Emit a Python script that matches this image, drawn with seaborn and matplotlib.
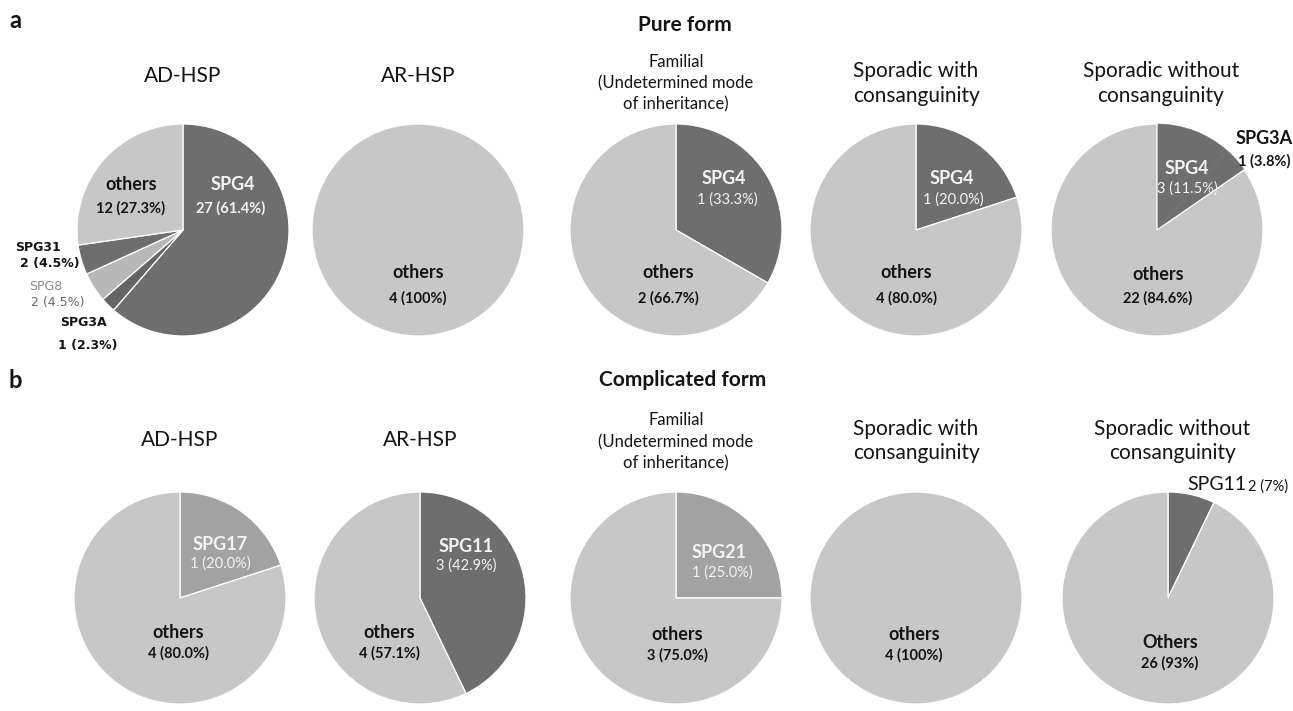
import matplotlib
matplotlib.use("Agg")
import matplotlib.pyplot as plt
import seaborn as sns

# ---------------- data ----------------
panel_letters = ["a", "b"]
panel_titles = ["Pure form", "Complicated form"]
group_titles = [["AD-HSP"], ["AR-HSP"],
                ["Familial", "(Undetermined mode", "of inheritance)"],
                ["Sporadic with", "consanguinity"],
                ["Sporadic without", "consanguinity"]]

# Row a (pure form)
a_ad_genes = ["SPG4", "SPG3A", "SPG8", "SPG31", "others"]
a_ad_counts = [27, 1, 2, 2, 12]
a_ad_texts = ["27 (61.4%)", "1 (2.3%)", "2 (4.5%)", "2 (4.5%)", "12 (27.3%)"]

a_ar_genes = ["others"]
a_ar_counts = [4]
a_ar_texts = ["4 (100%)"]

a_fam_genes = ["SPG4", "others"]
a_fam_counts = [1, 2]
a_fam_texts = ["1 (33.3%)", "2 (66.7%)"]

a_swc_genes = ["SPG4", "others"]
a_swc_counts = [1, 4]
a_swc_texts = ["1 (20.0%)", "4 (80.0%)"]

a_swo_genes = ["SPG4", "SPG3A", "others"]
a_swo_counts = [3, 1, 22]
a_swo_texts = ["3 (11.5%)", "1 (3.8%)", "22 (84.6%)"]

# Row b (complicated form)
b_ad_genes = ["SPG17", "others"]
b_ad_counts = [1, 4]
b_ad_texts = ["1 (20.0%)", "4 (80.0%)"]

b_ar_genes = ["SPG11", "others"]
b_ar_counts = [3, 4]
b_ar_texts = ["3 (42.9%)", "4 (57.1%)"]

b_fam_genes = ["SPG21", "others"]
b_fam_counts = [1, 3]
b_fam_texts = ["1 (25.0%)", "3 (75.0%)"]

b_swc_genes = ["others"]
b_swc_counts = [4]
b_swc_texts = ["4 (100%)"]

b_swo_genes = ["SPG11", "Others"]
b_swo_counts = [2, 26]
b_swo_texts = ["2 (7%)", "26 (93%)"]

# ---------------- style ----------------
sns.set_theme(style="white")
FONT = ["Lato", "DejaVu Sans"]
plt.rcParams["font.family"] = FONT

DARK = "#6e6e6e"
DARKER = "#656565"
LIGHT = "#c7c7c7"
MID = "#a2a2a2"
PALE = "#b8b8b8"
WHITE_TXT = "#f4f4f4"
BLACK_TXT = "#141414"

W, H = 1293, 711
fig = plt.figure(figsize=(W / 100, H / 100), dpi=100)
fig.patch.set_facecolor("white")

R = 106
cx_a = [183, 418, 676, 916, 1157]
cx_b = [180, 420, 676, 916, 1168]
cy_a, cy_b = 230, 598


def draw_pie(cx, cy, counts, colors):
    ax = fig.add_axes([(cx - R) / W, 1 - (cy + R) / H, 2 * R / W, 2 * R / H])
    wedges, _ = ax.pie(counts, colors=colors, startangle=90, counterclock=False, radius=1,
                       wedgeprops=dict(edgecolor="white", linewidth=0.9))
    ax.set_xlim(-1, 1)
    ax.set_ylim(-1, 1)
    ax.set_aspect("equal")
    ax.axis("off")
    return wedges


def txt(x, y, s, size, weight="normal", color=BLACK_TXT, family=None, ha="center"):
    fig.text(x / W, 1 - y / H, s, fontsize=size, fontweight=weight, color=color,
             ha=ha, va="center", family=family or FONT)


# ---------------- headings ----------------
txt(15, 21, panel_letters[0], 17, "bold", ha="center")
txt(15, 381, panel_letters[1], 17, "bold", ha="center")
txt(685, 25, panel_titles[0], 15, "bold")
txt(683, 380, panel_titles[1], 15, "bold")

# group titles
rows_title_y = [(76, [62, 83, 104], [71, 96]), (440, [420, 442, 463], [429, 453])]
for ri, (ysingle, yfam, ytwo) in enumerate(rows_title_y):
    cxs = cx_a if ri == 0 else cx_b
    txt(cxs[0], ysingle, group_titles[0][0], 15)
    txt(cxs[1], ysingle, group_titles[1][0], 15)
    for line, yy in zip(group_titles[2], yfam):
        txt(cxs[2], yy, line, 12)
    for line, yy in zip(group_titles[3], ytwo):
        txt(cxs[3], yy, line, 15)
    for line, yy in zip(group_titles[4], ytwo):
        txt(cxs[4] + 4, yy, line, 15)

# ---------------- row a ----------------
draw_pie(cx_a[0], cy_a, a_ad_counts, [DARK, DARKER, PALE, DARK, LIGHT])
txt(233, 185, a_ad_genes[0], 13, "bold", WHITE_TXT)
txt(231, 208, a_ad_texts[0], 10.5, "bold", WHITE_TXT)
txt(131, 185, a_ad_genes[4], 13, "bold")
txt(131, 208, a_ad_texts[4], 10.5, "bold")
txt(38, 247, a_ad_genes[3], 9, "bold", family=["DejaVu Sans"])
txt(50, 263, a_ad_texts[3], 9, "bold", family=["DejaVu Sans"])
txt(46, 287, a_ad_genes[2], 9, "normal", "#8a8a8a", family=["DejaVu Sans"])
txt(58, 302, a_ad_texts[2], 9, "normal", "#6a6a6a", family=["DejaVu Sans"])
txt(83, 322, a_ad_genes[1], 9, "bold", family=["DejaVu Sans"])
txt(88, 345, a_ad_texts[1], 9, "bold", family=["DejaVu Sans"])

draw_pie(cx_a[1], cy_a, a_ar_counts, [LIGHT])
txt(cx_a[1], 273, a_ar_genes[0], 13, "bold")
txt(cx_a[1], 298, a_ar_texts[0], 10.5, "bold")

draw_pie(cx_a[2], cy_a, a_fam_counts, [DARK, LIGHT])
txt(724, 178, a_fam_genes[0], 13, "bold", WHITE_TXT)
txt(727, 200, a_fam_texts[0], 10.5, "normal", WHITE_TXT)
txt(668, 273, a_fam_genes[1], 13, "bold")
txt(668, 298, a_fam_texts[1], 10.5, "bold")

draw_pie(cx_a[3], cy_a, a_swc_counts, [DARK, LIGHT])
txt(952, 178, a_swc_genes[0], 13, "bold", WHITE_TXT)
txt(953, 200, a_swc_texts[0], 10.5, "normal", WHITE_TXT)
txt(906, 273, a_swc_genes[1], 13, "bold")
txt(906, 298, a_swc_texts[1], 10.5, "bold")

w5 = draw_pie(cx_a[4], cy_a, a_swo_counts, [DARK, DARK, LIGHT])
for w in w5[:2]:
    w.set_edgecolor(DARK)
    w.set_linewidth(0.3)
txt(1187, 169, a_swo_genes[0], 13, "bold", WHITE_TXT)
txt(1187, 189, a_swo_texts[0], 10.5, "normal", WHITE_TXT)
txt(1264, 138, a_swo_genes[1], 13, "bold")
txt(1264, 161, a_swo_texts[1], 10.5, "bold")
txt(1158, 275, a_swo_genes[2], 13, "bold")
txt(1158, 298, a_swo_texts[2], 10.5, "bold")

# ---------------- row b ----------------
draw_pie(cx_b[0], cy_b, b_ad_counts, [MID, LIGHT])
txt(220, 544, b_ad_genes[0], 13, "bold", WHITE_TXT)
txt(220, 564, b_ad_texts[0], 10.5, "normal", WHITE_TXT)
txt(178, 632, b_ad_genes[1], 13, "bold")
txt(178, 653, b_ad_texts[1], 10.5, "bold")

draw_pie(cx_b[1], cy_b, b_ar_counts, [DARK, LIGHT])
txt(466, 546, b_ar_genes[0], 13, "bold", WHITE_TXT)
txt(466, 566, b_ar_texts[0], 10.5, "normal", WHITE_TXT)
txt(389, 632, b_ar_genes[1], 13, "bold")
txt(389, 653, b_ar_texts[1], 10.5, "bold")

draw_pie(cx_b[2], cy_b, b_fam_counts, [MID, LIGHT])
txt(719, 553, b_fam_genes[0], 13, "bold", WHITE_TXT)
txt(722, 573, b_fam_texts[0], 10.5, "normal", WHITE_TXT)
txt(677, 634, b_fam_genes[1], 13, "bold")
txt(677, 655, b_fam_texts[1], 10.5, "bold")

draw_pie(cx_b[3], cy_b, b_swc_counts, [LIGHT])
txt(914, 634, b_swc_genes[0], 13, "bold")
txt(914, 655, b_swc_texts[0], 10.5, "bold")

draw_pie(cx_b[4], cy_b, b_swo_counts, [DARK, LIGHT])
txt(1217, 485, b_swo_genes[0], 14, "normal")
txt(1268, 487, b_swo_texts[0], 10.5, "normal")
txt(1170, 642, b_swo_genes[1], 13, "bold")
txt(1170, 663, b_swo_texts[1], 10.5, "bold")

fig.savefig("out.png", dpi=100, facecolor="white")
